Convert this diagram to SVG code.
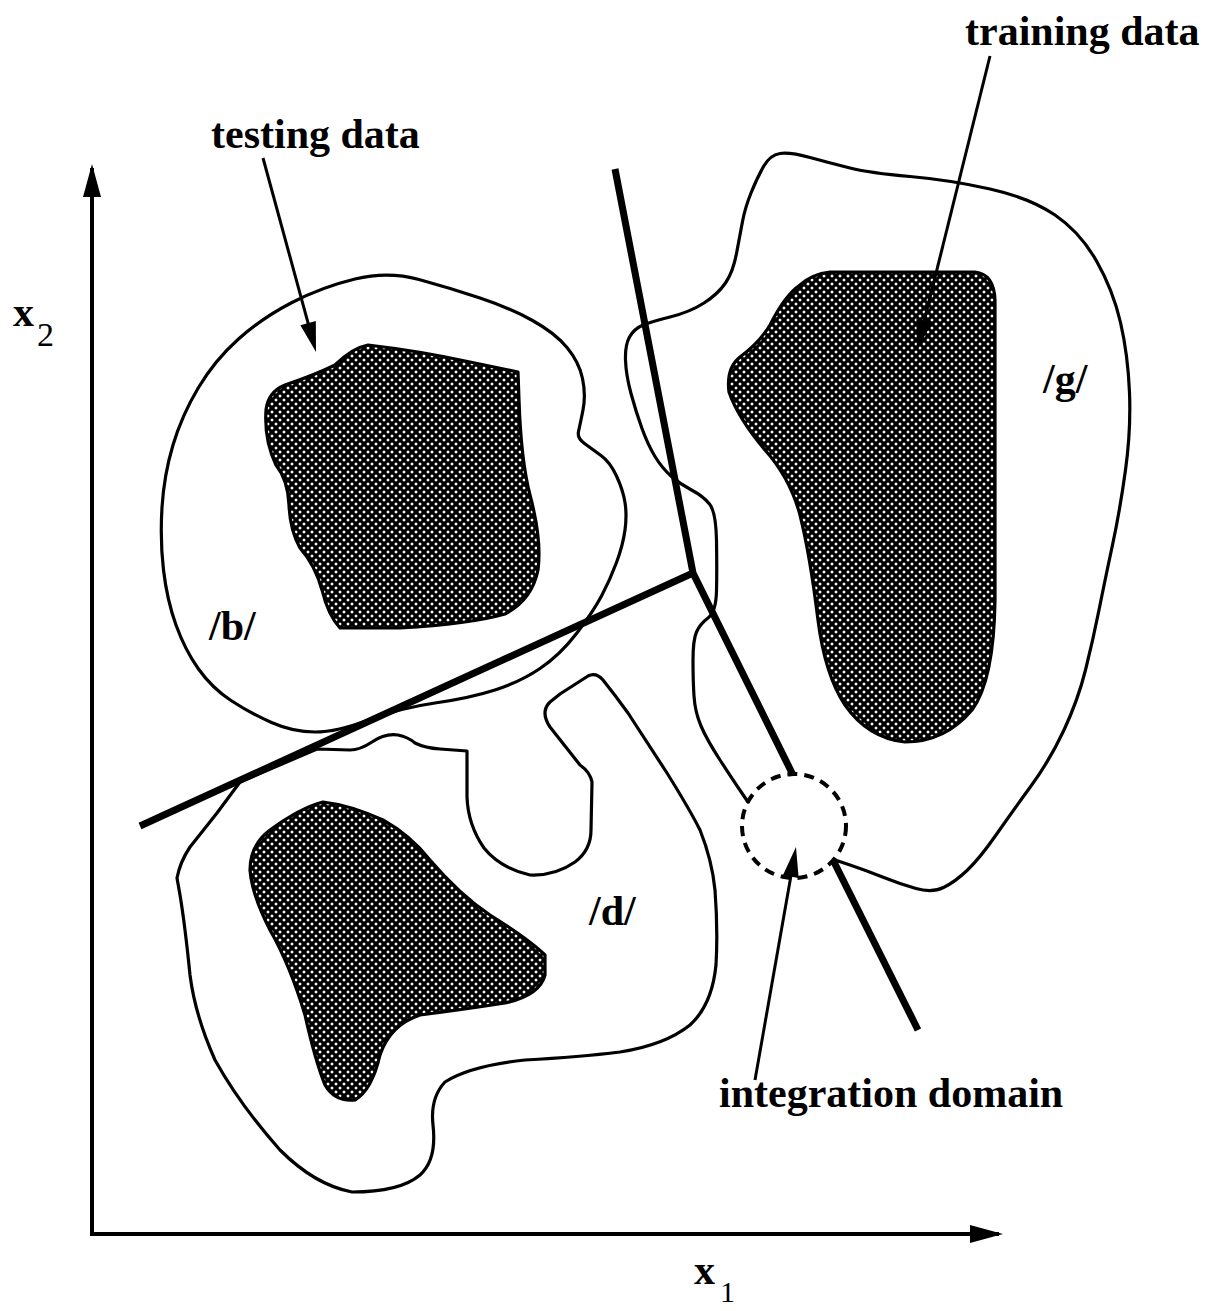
<svg xmlns="http://www.w3.org/2000/svg" width="1211" height="1311" viewBox="0 0 1211 1311">
<style>
.outline{fill:none;stroke:#000;stroke-width:3.2;stroke-linejoin:round;stroke-linecap:round}
.core{fill:url(#hatch);stroke:#000;stroke-width:3.2;stroke-linejoin:round}
.sep{fill:none;stroke:#000;stroke-width:7;stroke-linejoin:miter;stroke-linecap:butt}
.axis{fill:none;stroke:#000;stroke-width:4}
.ptr{fill:none;stroke:#000;stroke-width:3}
.lbl{font-family:"Liberation Serif","Times New Roman",serif;font-weight:bold;font-size:42px;fill:#000}
.sub{font-family:"Liberation Serif","Times New Roman",serif;font-weight:normal;fill:#000}
</style>
<defs>
<pattern id="hatch" patternUnits="userSpaceOnUse" width="8" height="8">
<rect width="8" height="8" fill="#fff"/>
<path d="M0,0 L8,8 M8,0 L0,8" stroke="#000" stroke-width="3.2"/>
</pattern>
<marker id="ah" markerUnits="userSpaceOnUse" viewBox="-24 -9 34 18" markerWidth="34" markerHeight="18" refX="0" refY="0" orient="auto">
<path d="M8,0 L-22,-8 L-22,8 Z" fill="#000"/>
</marker>
<marker id="axh" markerUnits="userSpaceOnUse" viewBox="-31 -10 37 20" markerWidth="37" markerHeight="20" refX="0" refY="0" orient="auto">
<path d="M4,0 L-29,-9 L-29,9 Z" fill="#000"/>
</marker>
</defs>
<rect width="1211" height="1311" fill="#fff"/>

<g id="axes">
<line class="axis" x1="92" y1="1236" x2="92" y2="168" marker-end="url(#axh)"/>
<line class="axis" x1="90" y1="1234" x2="999" y2="1234" marker-end="url(#axh)"/>
<text class="lbl" x="13" y="326" font-size="44">x</text><text class="sub" x="37" y="346" font-size="34">2</text>
<text class="lbl" x="694" y="1284" font-size="44">x</text><text class="sub" x="720" y="1302" font-size="30">1</text>
</g>

<g id="region-b">
<path class="outline" d="M355,279 Q388,271 419,279.5 Q450,288 480,298 Q510,308 532.5,320.5 Q555,333 567,347.5 Q579,362 582.5,378.5 Q586,395 583,410 Q580,425 578.5,431.5 Q577,438 584.5,443.5 Q592,449 601,455.5 Q610,462 616.5,476 Q623,490 625,502.5 Q627,515 625,530 Q623,545 616.5,562.5 Q610,580 601.5,596 Q593,612 576.5,633.5 Q560,655 540,668.5 Q520,682 495,690 Q470,698 435,703 Q400,708 368.5,720 Q337,732 315,732 Q293,732 271.5,722.5 Q250,713 231,700.5 Q212,688 198.5,669 Q185,650 176,625 Q167,600 163.5,570 Q160,540 162,507.5 Q164,475 173,445 Q182,415 198.5,387.5 Q215,360 238.5,339 Q262,318 292,302.5 Q322,287 355,279 Z"/>
<path class="core" d="M368,345 Q420,351 470,362 L518,372 L519,400 Q521,460 530,495 Q542,540 538,570 Q532,600 505,614 Q470,624 400,628 L340,628 Q328,615 322,590 Q315,565 300,548 Q290,530 289,505 Q288,480 276,465 Q264,440 266,410 Q268,392 285,385 Q315,375 335,365 Q352,348 368,345 Z"/>
<text class="lbl" x="209" y="640">/b/</text>
</g>

<g id="region-g">
<path class="outline" d="M748,802 L740.5,791 Q733,780 720,760 Q707,740 701,726 Q695,712 694,696 Q693,680 693,660 Q693,640 696.5,632 Q700,624 708,618 Q716,612 716.5,591 Q717,570 716.5,541 Q716,512 709.5,504 Q703,496 691.5,490 Q680,484 671,476 Q662,468 655,456.5 Q648,445 642,428.5 Q636,412 631,393.5 Q626,375 625.5,360 Q625,345 629.5,337 Q634,329 642,325.5 Q650,322 670,317 Q690,312 704,303 Q718,294 725.5,283 Q733,272 736.5,253.5 Q740,235 742.5,221.5 Q745,208 751,193 Q757,178 763.5,166.5 Q770,155 780,153.5 Q790,152 810,157.5 Q830,163 850,168 Q870,173 910,176.5 Q950,180 990,189 Q1030,198 1055,215 Q1080,232 1096.5,261 Q1113,290 1120.5,322.5 Q1128,355 1129.5,392.5 Q1131,430 1125.5,470 Q1120,510 1112.5,545 Q1105,580 1099,610 Q1093,640 1085.5,670 Q1078,700 1064,730 Q1050,760 1031,786 Q1012,812 996,835 Q980,858 967.5,870 Q955,882 943.5,887.5 Q932,893 916,888.5 Q900,884 882.5,877 Q865,870 850,865 L835,860"/>
<path class="core" d="M830,272 L975,272 Q994,274 995,300 L995,600 Q994,680 972,710 Q945,742 905,742 Q868,738 845,705 Q825,675 818,620 Q810,555 800,515 Q790,478 765,450 Q738,418 729,392 Q726,368 740,357 Q760,342 770,325 Q785,295 800,285 Q812,274 830,272 Z"/>
<text class="lbl" x="1043" y="393">/g/</text>
</g>

<g id="region-d">
<path class="outline" d="M317,749 L350,750 Q360,750 372,742 Q385,733 398,735 Q408,737 415,743 Q425,748 440,749 L467,751 L467,797 Q468,825 484,848 Q500,868 530,875 Q555,876 575,862 Q591,850 591,830 L592,782 Q590,772 580,765 L550,727 Q540,712 550,702 L560,694 L588,676 Q596,672 603,680 Q615,695 628,713 L667,773 Q690,810 700,830 Q712,860 715,890 Q718,930 716,965 Q712,1005 690,1025 Q665,1045 620,1052 Q580,1057 525,1060 Q470,1066 445,1082 Q430,1098 433,1125 Q437,1160 420,1175 Q400,1192 352,1192 Q315,1185 280,1150 Q240,1105 215,1060 Q195,1015 190,975 Q185,925 180,895 L177,878 Q180,862 190,847 L217,813 L240,782 Z"/>
<path class="core" d="M323,802 Q350,805 383,820 Q410,835 430,860 Q460,895 490,915 Q530,940 545,955 L545,975 Q540,995 505,1003 Q460,1010 420,1015 Q390,1025 380,1055 Q372,1090 355,1100 Q335,1102 325,1085 Q315,1060 305,1015 Q290,965 270,930 Q252,895 250,870 Q250,845 270,830 Q300,808 323,802 Z"/>
<text class="lbl" x="589" y="925">/d/</text>
</g>

<g id="integration-domain">
<circle cx="794" cy="826" r="52" fill="none" stroke="#000" stroke-width="4" stroke-dasharray="10 7"/>
</g>

<g id="connectors">
<polyline class="sep" points="140,826 693,573"/>
<polyline class="sep" points="615,169 693,573 793,775"/>
<line class="sep" x1="833" y1="860" x2="918" y2="1030"/>
<line class="ptr" x1="263" y1="158" x2="313.9" y2="344.3" marker-end="url(#ah)"/>
<line class="ptr" x1="990" y1="56" x2="918.9" y2="342.2" marker-end="url(#ah)"/>
<line class="ptr" x1="755" y1="1080" x2="794.6" y2="854.9" marker-end="url(#ah)"/>
</g>

<g id="labels">
<text class="lbl" x="211" y="148">testing data</text>
<text class="lbl" x="965" y="45">training data</text>
<text class="lbl" x="719" y="1107">integration domain</text>
</g>
</svg>
